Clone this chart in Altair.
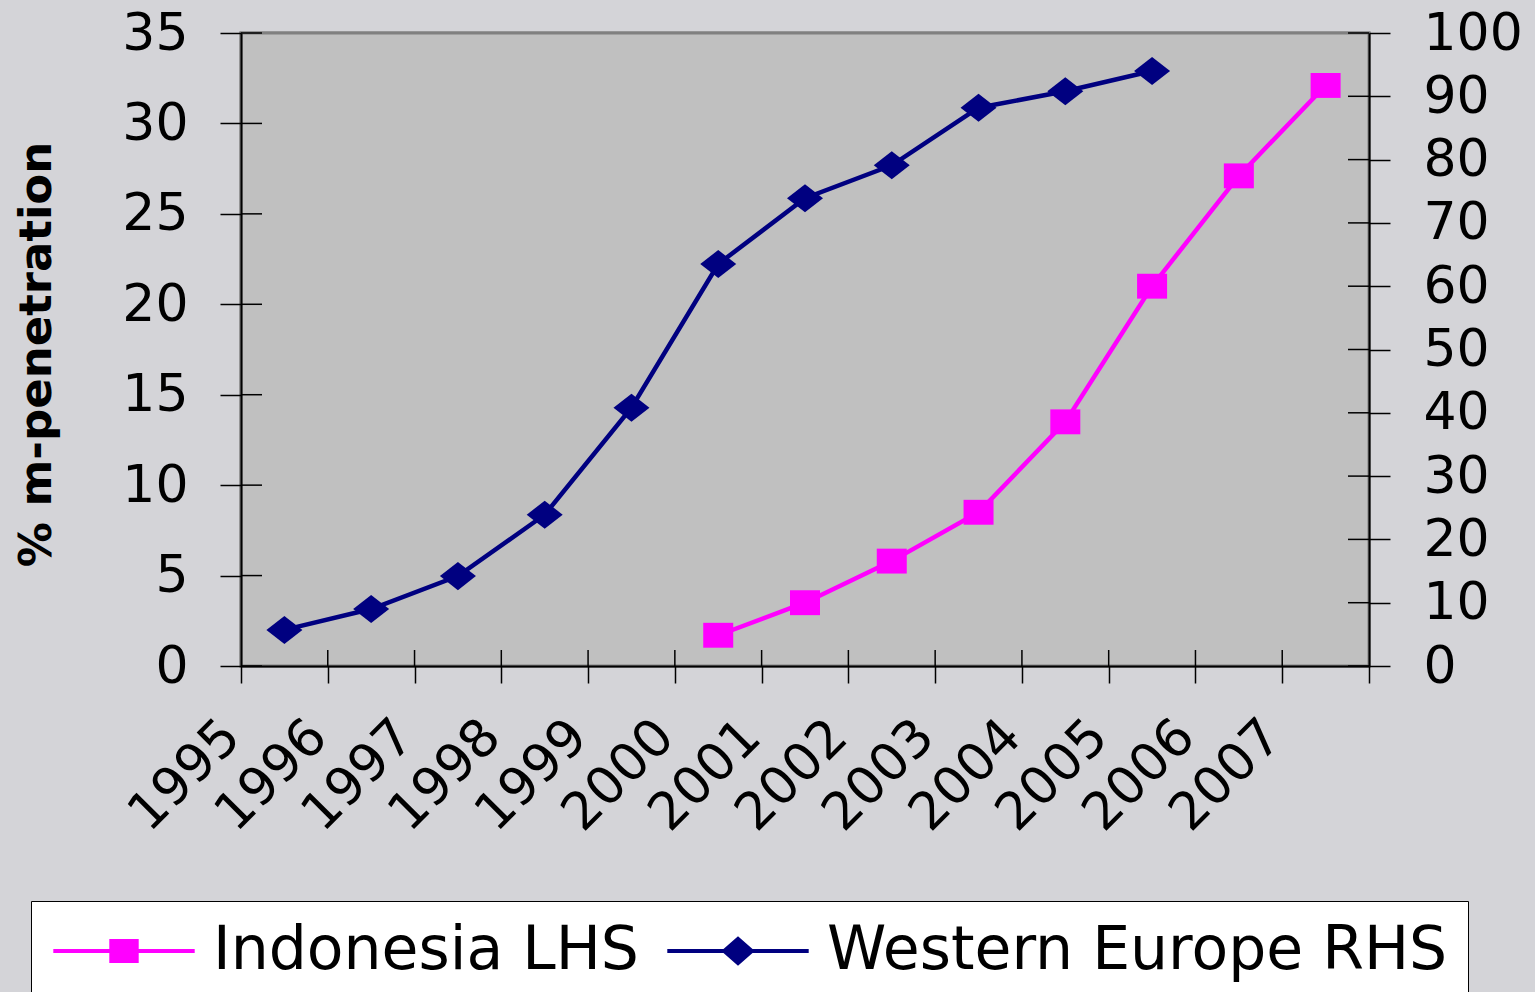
import json

import altair as alt
import pandas as pd

# ---- data -------------------------------------------------------------
years = ["1995", "1996", "1997", "1998", "1999", "2000", "2001",
         "2002", "2003", "2004", "2005", "2006", "2007"]

indonesia_years = ["2000", "2001", "2002", "2003", "2004", "2005", "2006", "2007"]
indonesia_pct = [1.7, 3.5, 5.8, 8.5, 13.5, 21.0, 27.1, 32.1]          # left axis

europe_years = ["1995", "1996", "1997", "1998", "1999", "2000",
                "2001", "2002", "2003", "2004", "2005"]
europe_pct = [5.7, 9.0, 14.2, 23.9, 40.8, 63.5, 73.9, 79.1, 88.2, 90.8, 94.0]  # right axis

left_ticks = [0, 5, 10, 15, 20, 25, 30, 35]
right_ticks = [0, 10, 20, 30, 40, 50, 60, 70, 80, 90, 100]

series_names = ["Indonesia LHS", "Western Europe RHS"]
series_colors = ["#FF00FF", "#000080"]

# ---- tables -------------------------------------------------------------
def frame(yrs, vals, name):
    return pd.DataFrame({
        "year": yrs,
        "pos": [years.index(y) + 0.5 for y in yrs],   # centre of the year's slot
        "value": vals,
        "series": name,
    })

indo_df = frame(indonesia_years, indonesia_pct, series_names[0])
euro_df = frame(europe_years, europe_pct, series_names[1])

# ---- geometry / style ---------------------------------------------------
W, H = 1128, 633
FONT = "DejaVu Sans"
TICK_IN_Y = 21
TICK_IN_X = 16
LINE_W = 4.5

x_scale = alt.Scale(domain=[0, len(years)], nice=False, zero=False)
y_left = alt.Scale(domain=[0, 35], nice=False)
y_right = alt.Scale(domain=[0, 100], nice=False)

label_expr = "datum.value < %d ? %s[datum.value] : ''" % (len(years), json.dumps(years))

x_axis = alt.Axis(
    values=list(range(len(years) + 1)), labelExpr=label_expr,
    labelAngle=-45, labelAlign="right", labelBaseline="middle",
    labelFont=FONT, labelFontSize=52, labelColor="black",
    labelPadding=45, labelOffset=-10, labelOverlap=False,
    tickSize=17, tickColor="black", tickWidth=1.5,
    domainColor="black", domainWidth=2, grid=False, title=None, zindex=1,
)

left_axis = alt.Axis(
    orient="left", values=left_ticks,
    labelFont=FONT, labelFontSize=52, labelColor="black", labelPadding=32,
    tickSize=21, tickColor="black", tickWidth=1.5,
    domainColor="black", domainWidth=2, grid=False, zindex=1,
    title="% m-penetration", titleFont=FONT, titleFontSize=45,
    titleFontWeight="bold", titleColor="black",
    titleAngle=270, titleAlign="center", titleBaseline="alphabetic",
    titleX=-191, titleY=321,
)

right_axis = alt.Axis(
    orient="right", values=right_ticks,
    labelFont=FONT, labelFontSize=52, labelColor="black", labelPadding=33,
    tickSize=21, tickColor="black", tickWidth=1.5,
    domainColor="black", domainWidth=2, grid=False, title=None, zindex=1,
)

# markers (slightly wider than tall)
square_path = "M-1,-0.83H1V0.83H-1Z"
diamond_path = "M0,-0.78L1,0L0,0.78L-1,0Z"

# legend keys: a line with the marker on it
legend_square = "M-5.05,-0.15H5.05V0.15H-5.05Z M-1.05,-0.86H1.05V0.86H-1.05Z"
legend_diamond = "M-5.05,-0.15H5.05V0.15H-5.05Z M0,-1.05L1.2,0L0,1.05L-1.2,0Z"

# ---- plot-area background -------------------------------------------------
plot_bg = alt.Chart(pd.DataFrame({"k": [0]})).mark_rect(
    color="#C0C0C0", stroke="#808080", strokeWidth=3
).encode(
    x=alt.value(0), x2=alt.value(W), y=alt.value(0), y2=alt.value(H),
)

# ---- series ---------------------------------------------------------------
# every layer that shares a scale carries the same axis definition, so the
# axes merge into one
indo_line = alt.Chart(indo_df).mark_line(
    color=series_colors[0], strokeWidth=LINE_W
).encode(
    x=alt.X("pos:Q", scale=x_scale, axis=x_axis),
    y=alt.Y("value:Q", scale=y_left, axis=left_axis),
)

indo_pts = alt.Chart(indo_df).mark_point(
    shape=square_path, size=900, filled=True, opacity=1,
    color=series_colors[0],
).encode(
    x=alt.X("pos:Q", scale=x_scale, axis=x_axis),
    y=alt.Y("value:Q", scale=y_left, axis=left_axis),
)

euro_line = alt.Chart(euro_df).mark_line(
    color=series_colors[1], strokeWidth=LINE_W
).encode(
    x=alt.X("pos:Q", scale=x_scale, axis=x_axis),
    y=alt.Y("value:Q", scale=y_right, axis=right_axis),
)

euro_pts = alt.Chart(euro_df).mark_point(
    shape=diamond_path, size=1296, filled=True, opacity=1,
    color=series_colors[1],
).encode(
    x=alt.X("pos:Q", scale=x_scale, axis=x_axis),
    y=alt.Y("value:Q", scale=y_right, axis=right_axis),
)

# ---- inner halves of the crossing tick marks ---------------------------
left_inner = alt.Chart(pd.DataFrame({"value": left_ticks})).mark_rule(
    color="black", strokeWidth=1.5
).encode(
    y=alt.Y("value:Q", scale=y_left, axis=left_axis),
    x=alt.value(0), x2=alt.value(TICK_IN_Y),
)

right_inner = alt.Chart(pd.DataFrame({"value": right_ticks})).mark_rule(
    color="black", strokeWidth=1.5
).encode(
    y=alt.Y("value:Q", scale=y_right, axis=right_axis),
    x=alt.value(W - TICK_IN_Y), x2=alt.value(W),
)

x_inner = alt.Chart(pd.DataFrame({"pos": list(range(1, len(years)))})).mark_rule(
    color="black", strokeWidth=1.5
).encode(
    x=alt.X("pos:Q", scale=x_scale, axis=x_axis),
    y=alt.value(H - TICK_IN_X), y2=alt.value(H),
)

# ---- legend (drawn from scales only) ------------------------------------
legend_props = dict(
    orient="none", legendX=-210, legendY=868, direction="horizontal",
    title="\u00a0", titleOrient="left", titleFontSize=10, titlePadding=43,
    labelFont=FONT, labelFontSize=60, labelColor="black",
    labelLimit=2000, labelOffset=59, columnPadding=28,
    symbolSize=784, symbolStrokeWidth=0, padding=20,
    fillColor="white", strokeColor="black",
)

legend_layer = alt.Chart(indo_df).transform_filter("false").mark_point(
    filled=True, opacity=1, strokeWidth=0
).encode(
    color=alt.Color("series:N",
                    scale=alt.Scale(domain=series_names, range=series_colors),
                    legend=alt.Legend(**legend_props)),
    shape=alt.Shape("series:N",
                    scale=alt.Scale(domain=series_names,
                                    range=[legend_square, legend_diamond]),
                    legend=alt.Legend(**legend_props)),
)

left_group = alt.layer(plot_bg, indo_line, left_inner, x_inner, indo_pts, legend_layer)
right_group = alt.layer(euro_line, right_inner, euro_pts)

chart = alt.layer(left_group, right_group).resolve_scale(
    y="independent"
).properties(
    width=W, height=H,
    autosize=alt.AutoSizeParams(type="none"),
    padding={"left": 241, "top": 33, "right": 166, "bottom": 326},
    background="#D4D4D8",
).configure_view(
    fill="#C0C0C0", stroke="#808080", strokeWidth=3,
)

chart.save("out.html", embed_options={"renderer": "svg", "actions": False})
